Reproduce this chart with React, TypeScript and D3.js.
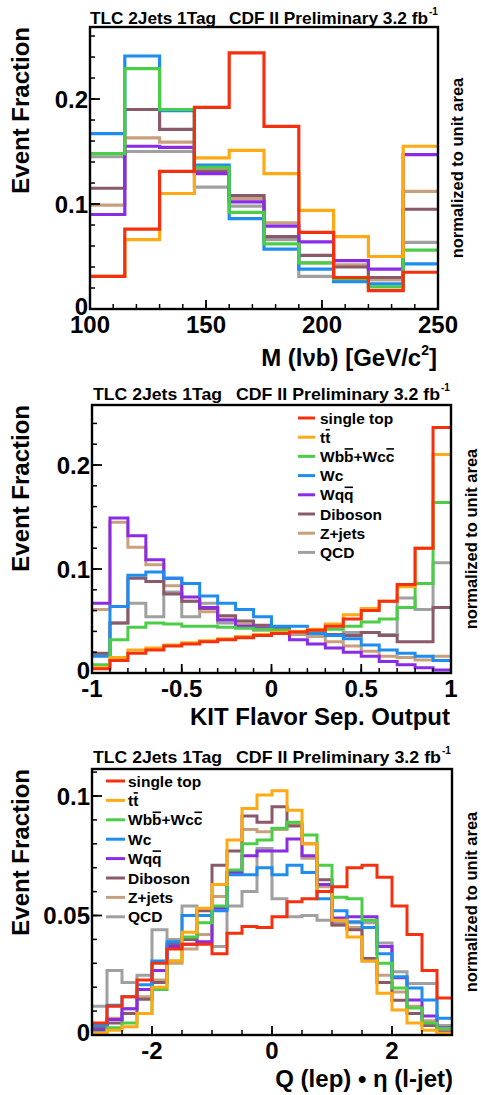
import React from "react";
import * as d3 from "d3";

// ---- bin edges (categories) ----
const massEdges = [100, 115, 130, 145, 160, 175, 190, 205, 220, 235, 250];
const kitEdges = [-1, -0.9, -0.8, -0.7, -0.6, -0.5, -0.4, -0.3, -0.2, -0.1, 0, 0.1, 0.2, 0.3, 0.4, 0.5, 0.6, 0.7, 0.8, 0.9, 1];
const qetaEdges = [-3, -2.75, -2.5, -2.25, -2, -1.75, -1.5, -1.25, -1, -0.75, -0.5, -0.25, 0, 0.25, 0.5, 0.75, 1, 1.25, 1.5, 1.75, 2, 2.25, 2.5, 2.75, 3];

const processes = ["single top", "tt", "Wbb+Wcc", "Wc", "Wqq", "Diboson", "Z+jets", "QCD"];

// ---- M(lvb) ----
const massSingleTop = [0.031, 0.076, 0.131, 0.192, 0.244, 0.174, 0.073, 0.030, 0.0175, 0.035];
const massTT = [0.031, 0.066, 0.110, 0.144, 0.151, 0.129, 0.094, 0.069, 0.050, 0.155];
const massWbb = [0.148, 0.229, 0.190, 0.135, 0.092, 0.062, 0.044, 0.029, 0.021, 0.056];
const massWc = [0.167, 0.241, 0.189, 0.137, 0.086, 0.057, 0.038, 0.026, 0.024, 0.043];
const massWqq = [0.090, 0.155, 0.154, 0.129, 0.102, 0.079, 0.064, 0.046, 0.038, 0.147];
const massDiboson = [0.115, 0.190, 0.171, 0.131, 0.108, 0.069, 0.051, 0.040, 0.030, 0.095];
const massZjets = [0.099, 0.163, 0.159, 0.133, 0.105, 0.082, 0.044, 0.042, 0.028, 0.112];
const massQCD = [0.145, 0.150, 0.150, 0.116, 0.098, 0.066, 0.031, 0.028, 0.028, 0.0635];

// ---- KIT flavor separator ----
const kitSingleTop = [0.004, 0.012, 0.019, 0.022, 0.026, 0.028, 0.030, 0.032, 0.034, 0.036, 0.038, 0.0395, 0.041, 0.045, 0.052, 0.060, 0.069, 0.085, 0.120, 0.236];
const kitTT = [0.005, 0.015, 0.022, 0.024, 0.027, 0.029, 0.031, 0.033, 0.035, 0.037, 0.039, 0.040, 0.042, 0.047, 0.056, 0.062, 0.069, 0.083, 0.120, 0.210];
const kitWbb = [0.008, 0.032, 0.044, 0.048, 0.047, 0.045, 0.045, 0.044, 0.043, 0.042, 0.041, 0.040, 0.041, 0.042, 0.045, 0.049, 0.052, 0.063, 0.086, 0.164];
const kitWc = [0.016, 0.064, 0.094, 0.097, 0.091, 0.086, 0.074, 0.067, 0.061, 0.054, 0.045, 0.045, 0.038, 0.036, 0.033, 0.027, 0.022, 0.019, 0.016, 0.012];
const kitWqq = [0.067, 0.149, 0.132, 0.109, 0.091, 0.073, 0.063, 0.051, 0.045, 0.043, 0.038, 0.032, 0.028, 0.024, 0.020, 0.016, 0.011, 0.008, 0.005, 0.003];
const kitDiboson = [0.019, 0.048, 0.091, 0.088, 0.076, 0.069, 0.062, 0.055, 0.050, 0.046, 0.044, 0.040, 0.038, 0.037, 0.036, 0.039, 0.036, 0.030, 0.030, 0.063];
const kitZjets = [0.061, 0.145, 0.121, 0.104, 0.084, 0.069, 0.059, 0.052, 0.047, 0.045, 0.042, 0.038, 0.035, 0.030, 0.026, 0.021, 0.016, 0.015, 0.0125, 0.016];
const kitQCD = [0.017, 0.048, 0.067, 0.054, 0.078, 0.054, 0.067, 0.048, 0.044, 0.041, 0.039, 0.037, 0.036, 0.037, 0.039, 0.039, 0.037, 0.072, 0.061, 0.106];

// ---- Q(lep) * eta(l-jet) ----
const qetaSingleTop = [0.005, 0.012, 0.016, 0.023, 0.030, 0.036, 0.038, 0.038, 0.034, 0.0426, 0.0454, 0.045, 0.0495, 0.0558, 0.057, 0.060, 0.062, 0.070, 0.071, 0.066, 0.054, 0.042, 0.027, 0.0155];
const qetaTT = [0.0007, 0.002, 0.0035, 0.009, 0.020, 0.031, 0.043, 0.053, 0.063, 0.0816, 0.0948, 0.1004, 0.1022, 0.094, 0.080, 0.060, 0.048, 0.041, 0.031, 0.0175, 0.0105, 0.005, 0.002, 0.0007];
const qetaWbb = [0.001, 0.003, 0.005, 0.009, 0.019, 0.031, 0.041, 0.047, 0.054, 0.069, 0.080, 0.0816, 0.0865, 0.089, 0.0837, 0.071, 0.0576, 0.057, 0.048, 0.030, 0.0197, 0.0113, 0.005, 0.0027];
const qetaWc = [0.004, 0.0125, 0.016, 0.021, 0.031, 0.039, 0.050, 0.050, 0.052, 0.067, 0.067, 0.070, 0.067, 0.071, 0.068, 0.057, 0.052, 0.0474, 0.045, 0.034, 0.0244, 0.0197, 0.0146, 0.007];
const qetaWqq = [0.002, 0.0065, 0.011, 0.019, 0.027, 0.037, 0.038, 0.039, 0.053, 0.068, 0.075, 0.077, 0.077, 0.082, 0.075, 0.063, 0.049, 0.0495, 0.0495, 0.037, 0.024, 0.0146, 0.008, 0.003];
const qetaDiboson = [0.003, 0.005, 0.009, 0.015, 0.022, 0.038, 0.040, 0.052, 0.071, 0.077, 0.0916, 0.089, 0.0955, 0.0874, 0.080, 0.065, 0.046, 0.044, 0.032, 0.022, 0.0145, 0.009, 0.004, 0.0014];
const qetaZjets = [0.004, 0.007, 0.011, 0.016, 0.023, 0.030, 0.036, 0.042, 0.058, 0.068, 0.086, 0.085, 0.086, 0.088, 0.074, 0.062, 0.046, 0.045, 0.031, 0.025, 0.018, 0.012, 0.006, 0.003];
const qetaQCD = [0.012, 0.027, 0.022, 0.025, 0.044, 0.040, 0.054, 0.050, 0.037, 0.054, 0.060, 0.078, 0.057, 0.0495, 0.050, 0.048, 0.047, 0.047, 0.047, 0.0385, 0.0265, 0.0216, 0.0216, 0.004];

// styles
const colors = ["#f5300e", "#ffaa14", "#4ccd48", "#1f8cf0", "#8a2be8", "#8a5a6a", "#c9a07e", "#a0a0a0"];
const FONT = "'Liberation Sans', Arial, Helvetica, sans-serif";
const LEGEND_SIZE = 15.5;

const panels = [
  {
    id: "mass",
    edges: massEdges,
    series: [massSingleTop, massTT, massWbb, massWc, massWqq, massDiboson, massZjets, massQCD],
    box: { left: 90, right: 438, top: 27, bottom: 309 },
    yMax: 0.2686,
    xMajor: [100, 150, 200, 250],
    xMinor: d3.range(110, 250, 10),
    yMajor: [0, 0.1, 0.2],
    yMinor: d3.range(0.02, 0.27, 0.02),
    header: { left: 90, leftLen: 126, right: 428, rightLen: 199, base: 24 },
    title: "mass",
    titleX: 437,
    titleY: 366,
    sideX: 463,
    legend: null,
    stroke: 3.2,
  },
  {
    id: "kit",
    edges: kitEdges,
    series: [kitSingleTop, kitTT, kitWbb, kitWc, kitWqq, kitDiboson, kitZjets, kitQCD],
    box: { left: 92, right: 451, top: 405, bottom: 673 },
    yMax: 0.2577,
    xMajor: [-1, -0.5, 0, 0.5, 1],
    xMinor: d3.range(-0.9, 1, 0.1),
    yMajor: [0, 0.1, 0.2],
    yMinor: d3.range(0.02, 0.26, 0.02),
    header: { left: 93, leftLen: 129, right: 440, rightLen: 204, base: 400 },
    title: "KIT Flavor Sep. Output",
    titleX: 450,
    titleY: 725,
    sideX: 477,
    legend: { x1: 298, x2: 315, tx: 320, y0: 418, dy: 19.2 },
    stroke: 3,
  },
  {
    id: "qeta",
    edges: qetaEdges,
    series: [qetaSingleTop, qetaTT, qetaWbb, qetaWc, qetaWqq, qetaDiboson, qetaZjets, qetaQCD],
    box: { left: 92, right: 452, top: 769, bottom: 1035 },
    yMax: 0.1113,
    xMajor: [-2, 0, 2],
    xMinor: d3.range(-2.5, 3, 0.5),
    yMajor: [0, 0.05, 0.1],
    yMinor: d3.range(0.01, 0.111, 0.01),
    header: { left: 93, leftLen: 129, right: 441, rightLen: 205, base: 763 },
    title: "Q (lep) \u2022 \u03b7 (l-jet)",
    titleX: 453,
    titleY: 1087,
    sideX: 477,
    legend: { x1: 106, x2: 125, tx: 128, y0: 781, dy: 19.4 },
    stroke: 3,
  },
];

// legend labels: plain text parts and barred letters
const legendParts = {
  "tt": [["t", false], ["t", true]],
  "Wbb+Wcc": [["Wb", false], ["b", true], ["+Wc", false], ["c", true]],
  "Wqq": [["Wq", false], ["q", true]],
};

let measureCtx = null;
function textWidth(s, size) {
  if (!measureCtx) measureCtx = document.createElement("canvas").getContext("2d");
  measureCtx.font = `bold ${size}px 'Liberation Sans'`;
  return measureCtx.measureText(s).width;
}

function LegendEntry({ name, x, baseline }) {
  const parts = legendParts[name] || [[name, false]];
  const text = parts.map((d) => d[0]).join("");
  const bars = [];
  let prefix = "";
  parts.forEach(([s, barred], i) => {
    if (barred) {
      const x0 = x + textWidth(prefix, LEGEND_SIZE);
      const w = textWidth(s, LEGEND_SIZE);
      bars.push(
        <line key={i} x1={x0 + 0.5} x2={x0 + w - 0.5} y1={baseline - 13} y2={baseline - 13} stroke="#000" strokeWidth={1.6} />
      );
    }
    prefix += s;
  });
  return (
    <g>
      <text x={x} y={baseline}>{text}</text>
      {bars}
    </g>
  );
}

function fmt(v) {
  return String(+v.toFixed(2));
}

function Panel({ p }) {
  const { box } = p;
  const x = d3.scaleLinear().domain([p.edges[0], p.edges[p.edges.length - 1]]).range([box.left, box.right]);
  const y = d3.scaleLinear().domain([0, p.yMax]).range([box.bottom, box.top]);
  const line = d3
    .line()
    .x((d) => x(d[0]))
    .y((d) => y(d[1]))
    .curve(d3.curveStepAfter);
  const clipId = "clip-" + p.id;
  const n = p.edges.length - 1;
  const order = d3.range(p.series.length).reverse();

  return (
    <g>
      <defs>
        <clipPath id={clipId}>
          <rect x={box.left} y={box.top} width={box.right - box.left} height={box.bottom - box.top} />
        </clipPath>
      </defs>

      {/* histograms, QCD first so single top ends on top */}
      <g clipPath={`url(#${clipId})`}>
        {order.map((k) => {
          const vals = p.series[k];
          const pts = vals.map((v, i) => [p.edges[i], v]).concat([[p.edges[n], vals[n - 1]]]);
          return (
            <path key={k} d={line(pts)} fill="none" stroke={colors[k]} strokeWidth={p.stroke} strokeLinejoin="miter" />
          );
        })}
      </g>

      {/* ticks */}
      {p.xMinor.map((t, i) => (
        <line key={"xm" + i} x1={x(t)} x2={x(t)} y1={box.bottom} y2={box.bottom - 5} stroke="#000" strokeWidth={1.5} />
      ))}
      {p.xMajor.map((t, i) => (
        <line key={"xM" + i} x1={x(t)} x2={x(t)} y1={box.bottom} y2={box.bottom - 9} stroke="#000" strokeWidth={1.8} />
      ))}
      {p.yMinor.map((t, i) => (
        <line key={"ym" + i} x1={box.left} x2={box.left + 5} y1={y(t)} y2={y(t)} stroke="#000" strokeWidth={1.5} />
      ))}
      {p.yMajor.map((t, i) => (
        <line key={"yM" + i} x1={box.left} x2={box.left + 10} y1={y(t)} y2={y(t)} stroke="#000" strokeWidth={1.8} />
      ))}

      {/* frame */}
      <rect x={box.left} y={box.top} width={box.right - box.left} height={box.bottom - box.top} fill="none" stroke="#000" strokeWidth={2.4} />

      {/* tick labels */}
      <g fontFamily={FONT} fontWeight="bold" fontSize={24} fill="#000">
        {p.xMajor.map((t, i) => (
          <text key={"xl" + i} x={x(t)} y={box.bottom + 24} textAnchor="middle">
            {fmt(t)}
          </text>
        ))}
        {p.yMajor.map((t, i) => (
          <text key={"yl" + i} x={box.left - 2} y={y(t) + (t === 0 ? 6 : 8.5)} textAnchor="end">
            {fmt(t)}
          </text>
        ))}
      </g>

      {/* header */}
      <g fontFamily={FONT} fontWeight="bold" fill="#000">
        <text x={p.header.left} y={p.header.base} fontSize={17} textLength={p.header.leftLen} lengthAdjust="spacingAndGlyphs">
          TLC 2Jets 1Tag
        </text>
        <text x={p.header.right - p.header.rightLen} y={p.header.base} fontSize={17} textLength={p.header.rightLen} lengthAdjust="spacingAndGlyphs">
          CDF II Preliminary 3.2 fb
        </text>
        <text x={p.header.right + 1} y={p.header.base - 9} fontSize={10}>-1</text>
      </g>

      {/* axis titles */}
      <g fontFamily={FONT} fontWeight="bold" fill="#000">
        <text x={p.titleX} y={p.titleY} fontSize={24} textAnchor="end">
          {p.title === "mass" ? (
            <>
              <tspan>M (l&#957;b) [GeV/c</tspan>
              <tspan fontSize={14} dy={-11}>2</tspan>
              <tspan dy={11}>]</tspan>
            </>
          ) : (
            p.title
          )}
        </text>
        <text transform={`translate(29,${box.top}) rotate(-90)`} fontSize={24} textAnchor="end">
          Event Fraction
        </text>
        <text transform={`translate(${p.sideX},${(box.top + box.bottom) / 2}) rotate(-90)`} fontSize={16.5} textAnchor="middle">
          normalized to unit area
        </text>
      </g>

      {/* legend */}
      {p.legend && (
        <g fontFamily={FONT} fontWeight="bold" fontSize={LEGEND_SIZE} fill="#000">
          {processes.map((name, i) => {
            const cy = p.legend.y0 + i * p.legend.dy;
            return (
              <g key={name}>
                <line x1={p.legend.x1} x2={p.legend.x2} y1={cy} y2={cy} stroke={colors[i]} strokeWidth={3} />
                <LegendEntry name={name} x={p.legend.tx} baseline={cy + 5.5} />
              </g>
            );
          })}
        </g>
      )}
    </g>
  );
}

export default function App() {
  return (
    <div style={{ position: "absolute", left: 0, top: 0 }}>
      <svg width={481} height={1095} viewBox="0 0 481 1095" style={{ display: "block", background: "#fff" }}>
        {panels.map((p) => (
          <Panel key={p.id} p={p} />
        ))}
      </svg>
    </div>
  );
}
